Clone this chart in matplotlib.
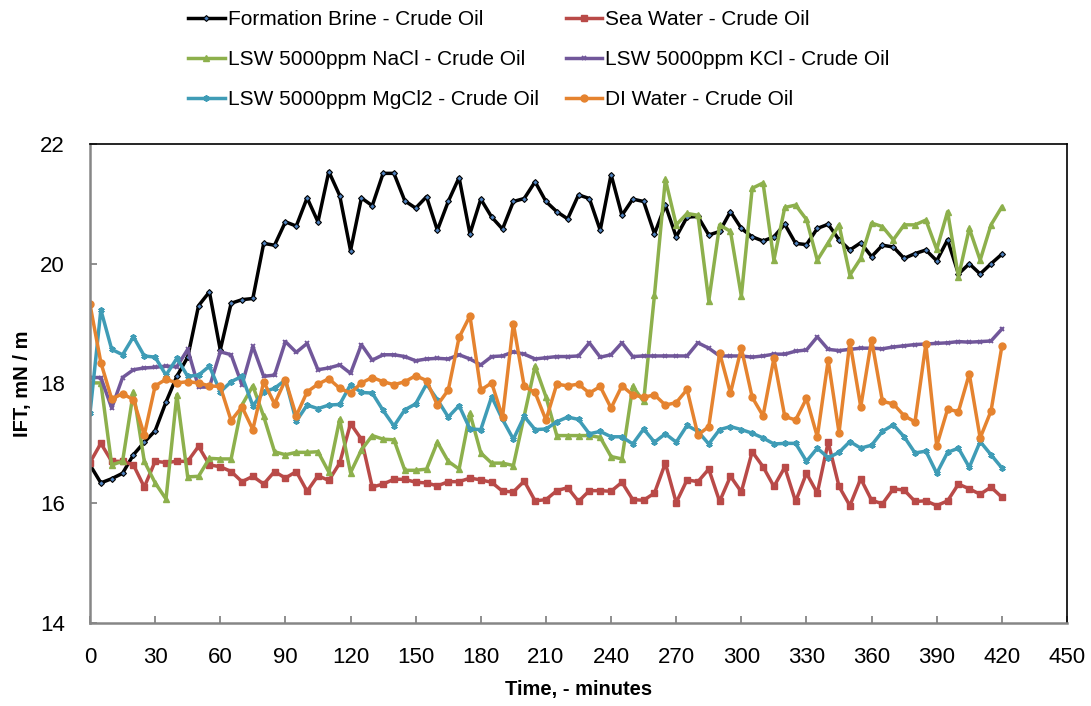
import numpy as np
import matplotlib
matplotlib.use("Agg")
import matplotlib.pyplot as plt

plt.rcParams['font.family'] = ['Liberation Sans', 'DejaVu Sans']

# time, minutes (one reading every 5 min)
time_min = np.arange(0, 421, 5)

formation_brine = [16.64, 16.34, 16.41, 16.50, 16.81, 17.02, 17.21, 17.69, 18.12, 18.44,
                   19.30, 19.53, 18.56, 19.34, 19.40, 19.42, 20.34, 20.31, 20.70, 20.63,
                   21.10, 20.70, 21.54, 21.14, 20.22, 21.10, 20.97, 21.51, 21.51, 21.05,
                   20.93, 21.12, 20.56, 21.04, 21.44, 20.50, 21.08, 20.78, 20.58, 21.04,
                   21.09, 21.37, 21.04, 20.87, 20.75, 21.15, 21.09, 20.56, 21.49, 20.81,
                   21.08, 21.04, 20.50, 20.98, 20.45, 20.78, 20.79, 20.48, 20.54, 20.87,
                   20.59, 20.45, 20.38, 20.45, 20.66, 20.34, 20.32, 20.59, 20.66, 20.40,
                   20.23, 20.35, 20.12, 20.31, 20.28, 20.09, 20.17, 20.23, 20.05, 20.40,
                   19.83, 20.00, 19.83, 20.00, 20.16]

sea_water = [16.68, 17.00, 16.70, 16.70, 16.64, 16.27, 16.70, 16.68, 16.70, 16.70,
             16.95, 16.64, 16.61, 16.53, 16.36, 16.45, 16.32, 16.53, 16.42, 16.53,
             16.20, 16.46, 16.38, 16.67, 17.33, 17.07, 16.27, 16.32, 16.40, 16.40,
             16.35, 16.34, 16.29, 16.36, 16.36, 16.42, 16.39, 16.35, 16.20, 16.19,
             16.37, 16.04, 16.06, 16.21, 16.26, 16.03, 16.21, 16.21, 16.20, 16.35,
             16.06, 16.05, 16.17, 16.67, 16.01, 16.39, 16.36, 16.57, 16.03, 16.45,
             16.19, 16.86, 16.61, 16.28, 16.60, 16.03, 16.50, 16.17, 17.02, 16.28,
             15.96, 16.41, 16.05, 15.99, 16.24, 16.22, 16.03, 16.04, 15.96, 16.04,
             16.32, 16.24, 16.15, 16.27, 16.10]

lsw_nacl = [18.01, 18.01, 16.64, 16.70, 17.86, 16.70, 16.34, 16.07, 17.81, 16.44,
            16.45, 16.75, 16.74, 16.74, 17.64, 17.96, 17.45, 16.86, 16.81, 16.85,
            16.85, 16.86, 16.52, 17.40, 16.51, 16.89, 17.13, 17.07, 17.06, 16.55,
            16.55, 16.57, 17.02, 16.70, 16.57, 17.50, 16.84, 16.67, 16.67, 16.63,
            17.46, 18.29, 17.78, 17.13, 17.13, 17.13, 17.13, 17.10, 16.78, 16.74,
            17.95, 17.70, 19.48, 21.41, 20.65, 20.84, 20.81, 19.38, 20.65, 20.54,
            19.46, 21.26, 21.35, 20.06, 20.94, 20.98, 20.74, 20.06, 20.35, 20.65,
            19.81, 20.09, 20.68, 20.62, 20.40, 20.65, 20.65, 20.73, 20.24, 20.87,
            19.78, 20.59, 20.06, 20.65, 20.95]

lsw_kcl = [18.10, 18.10, 17.59, 18.10, 18.23, 18.26, 18.27, 18.29, 18.28, 18.57,
           17.94, 17.94, 18.53, 18.48, 17.98, 18.62, 18.12, 18.14, 18.70, 18.52,
           18.67, 18.23, 18.26, 18.31, 18.17, 18.65, 18.39, 18.48, 18.48, 18.45,
           18.38, 18.41, 18.42, 18.41, 18.48, 18.41, 18.31, 18.45, 18.46, 18.53,
           18.49, 18.41, 18.43, 18.45, 18.45, 18.46, 18.68, 18.44, 18.48, 18.68,
           18.45, 18.46, 18.46, 18.46, 18.46, 18.46, 18.68, 18.59, 18.46, 18.46,
           18.46, 18.44, 18.46, 18.49, 18.49, 18.54, 18.56, 18.78, 18.57, 18.55,
           18.57, 18.59, 18.59, 18.58, 18.61, 18.63, 18.65, 18.66, 18.67, 18.68,
           18.70, 18.69, 18.70, 18.71, 18.91]

lsw_mgcl2 = [17.50, 19.23, 18.57, 18.48, 18.78, 18.46, 18.44, 18.14, 18.42, 18.12,
             18.14, 18.29, 17.86, 18.03, 18.12, 17.63, 17.86, 17.92, 18.06, 17.37,
             17.64, 17.58, 17.64, 17.65, 17.98, 17.85, 17.84, 17.55, 17.29, 17.56,
             17.66, 17.99, 17.73, 17.44, 17.63, 17.24, 17.23, 17.78, 17.40, 17.07,
             17.45, 17.23, 17.24, 17.36, 17.44, 17.40, 17.16, 17.20, 17.11, 17.11,
             16.99, 17.24, 17.02, 17.16, 17.02, 17.30, 17.20, 16.99, 17.23, 17.28,
             17.23, 17.17, 17.09, 16.99, 17.00, 17.00, 16.70, 16.92, 16.76, 16.85,
             17.03, 16.92, 16.97, 17.20, 17.31, 17.11, 16.84, 16.87, 16.50, 16.85,
             16.92, 16.60, 17.03, 16.81, 16.59]

di_water = [19.32, 18.35, 17.74, 17.83, 17.73, 17.14, 17.96, 18.07, 18.01, 18.03,
            18.01, 17.96, 17.95, 17.38, 17.61, 17.23, 18.03, 17.66, 18.06, 17.46,
            17.86, 17.99, 18.08, 17.92, 17.84, 18.01, 18.10, 18.03, 17.98, 18.03,
            18.13, 18.05, 17.64, 17.89, 18.77, 19.13, 17.89, 18.01, 17.44, 19.00,
            17.95, 17.85, 17.39, 17.99, 17.96, 17.99, 17.84, 17.95, 17.59, 17.96,
            17.81, 17.77, 17.81, 17.64, 17.68, 17.90, 17.14, 17.28, 18.51, 17.84,
            18.59, 17.77, 17.46, 18.42, 17.45, 17.39, 17.75, 17.11, 18.39, 17.18,
            18.70, 17.61, 18.73, 17.70, 17.66, 17.46, 17.36, 18.66, 16.96, 17.57,
            17.53, 18.16, 17.09, 17.54, 18.62]

fig = plt.figure(figsize=(10.91, 7.06), dpi=100)
ax = fig.add_axes([0.0825, 0.1176, 0.8955, 0.6784])

lw = 2.5
l1, = ax.plot(time_min, formation_brine, color='black', lw=lw, marker='D', ms=3,
              mfc='#4F81BD', mec='black', mew=0.8, label='Formation Brine - Crude Oil')
l2, = ax.plot(time_min, sea_water, color='#B94A48', lw=lw, marker='s', ms=4.5,
              label='Sea Water - Crude Oil')
l3, = ax.plot(time_min, lsw_nacl, color='#8DB04C', lw=lw, marker='^', ms=4.5,
              label='LSW 5000ppm NaCl - Crude Oil')
l4, = ax.plot(time_min, lsw_kcl, color='#71579A', lw=lw, marker='x', ms=3.5, mew=1.3,
              label='LSW 5000ppm KCl - Crude Oil')
l5, = ax.plot(time_min, lsw_mgcl2, color='#3F9CB6', lw=lw, marker=(6, 2, 0), ms=4.5, mew=1.3,
              label='LSW 5000ppm MgCl2 - Crude Oil')
l6, = ax.plot(time_min, di_water, color='#E5832F', lw=lw, marker='o', ms=5,
              label='DI Water - Crude Oil')

ax.set_xlim(0, 450)
ax.set_ylim(14, 22)
ax.set_xticks(np.arange(0, 451, 30))
ax.set_yticks(np.arange(14, 23, 2))
ax.tick_params(direction='in', length=5, width=1.3, color='#868686', labelsize=16)
ax.tick_params(axis='x', pad=17)
ax.tick_params(axis='y', pad=18)

for s in ['left', 'bottom']:
    ax.spines[s].set_color('#868686')
    ax.spines[s].set_linewidth(1.8)
for s in ['top', 'right']:
    ax.spines[s].set_color('black')
    ax.spines[s].set_linewidth(1.2)

ax.set_xlabel('Time, - minutes', fontsize=14.5, fontweight='bold', labelpad=9)
ax.set_ylabel('IFT, mN / m', fontsize=14.5, fontweight='bold', labelpad=6)

fig.legend(handles=[l1, l3, l5, l2, l4, l6], ncol=2, loc='upper center',
           bbox_to_anchor=(0.494, 1.012), frameon=False, fontsize=15,
           handlelength=1.75, handletextpad=0.15, labelspacing=1.0, columnspacing=1.3)

fig.savefig('out.png', dpi=100)
